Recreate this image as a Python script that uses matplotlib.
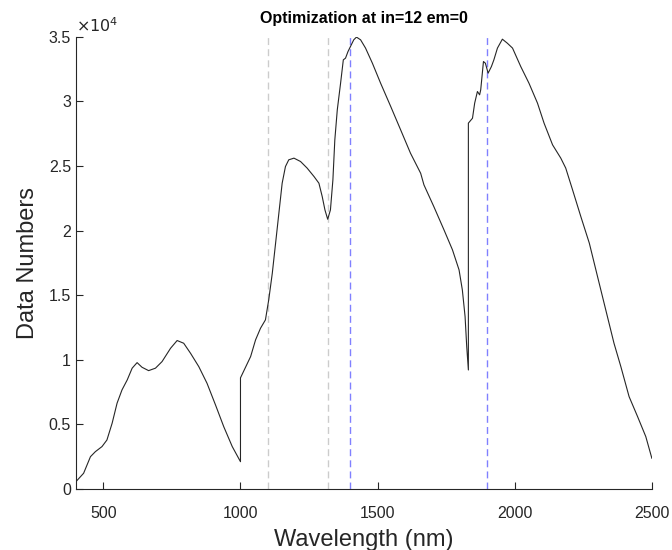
import matplotlib
matplotlib.use("Agg")
import matplotlib.pyplot as plt
from matplotlib.ticker import FuncFormatter

plt.rcParams['font.family'] = ['Liberation Sans', 'DejaVu Sans']

# spectrum
wavelength = [400, 428, 453, 471, 495, 513, 532, 550, 568, 587, 605, 623, 641, 665,
              690, 714, 745, 769, 793, 818, 848, 878, 909, 939, 970, 1000, 1000,
              1037, 1055, 1073, 1091, 1103, 1116, 1128, 1140, 1152, 1164, 1176, 1195,
              1219, 1243, 1268, 1286, 1298, 1308, 1318, 1328, 1337, 1344, 1353, 1365,
              1375, 1383, 1392, 1401, 1413, 1423, 1438, 1456, 1481, 1511, 1548, 1584,
              1620, 1657, 1669, 1705, 1742, 1773, 1797, 1809, 1819, 1825, 1831, 1831,
              1846, 1854, 1864, 1872, 1876, 1886, 1893, 1903, 1915, 1924, 1937, 1955,
              1973, 1992, 2022, 2052, 2083, 2107, 2138, 2168, 2186, 2211, 2241, 2272,
              2302, 2332, 2362, 2387, 2417, 2448, 2478, 2500]
data_numbers = [565, 1215, 2500, 2890, 3280, 3790, 5090, 6640, 7670, 8440, 9350, 9780,
                9420, 9160, 9350, 9860, 10890, 11490, 11280, 10500, 9470, 8180, 6500,
                4820, 3280, 2110, 8600, 10250, 11540, 12440, 13090, 14640, 16700,
                19020, 21350, 23670, 24960, 25480, 25610, 25350, 24840, 24190, 23670,
                22640, 21600, 20880, 21600, 23930, 27020, 29350, 31410, 33220, 33350,
                33860, 34250, 34770, 34980, 34770, 34130, 32960, 31410, 29600, 27800,
                25990, 24440, 23540, 21860, 20060, 18510, 16960, 15410, 13340, 11020,
                9210, 28320, 28700, 29870, 30770, 30510, 30900, 33090, 32960, 32190,
                32700, 33220, 34130, 34820, 34510, 34130, 32700, 31410, 29870, 28320,
                26640, 25610, 24840, 23150, 21090, 19030, 16440, 13860, 11280, 9470,
                7150, 5600, 4050, 2380]

gray_lines = [1100, 1320]
blue_lines = [1400, 1900]

fig = plt.figure(figsize=(6.72, 5.5), dpi=100)
ax = fig.add_axes([0.113, 0.111, 0.857, 0.822])

for x in gray_lines:
    ax.axvline(x, color='#cccccc', lw=1.0, ls=(0, (5, 3)))
for x in blue_lines:
    ax.axvline(x, color='#8080ff', lw=1.0, ls=(0, (5, 3)))
ax.plot(wavelength, data_numbers, color='#262626', lw=0.8)

ax.set_xlim(400, 2500)
ax.set_ylim(0, 35000)
ax.set_xticks([500, 1000, 1500, 2000, 2500])
ax.set_yticks([i * 5000 for i in range(8)])
ax.yaxis.set_major_formatter(FuncFormatter(lambda v, p: f"{v / 1e4:g}"))

for s in ['top', 'right']:
    ax.spines[s].set_visible(False)
for s in ['left', 'bottom']:
    ax.spines[s].set_color('#262626')
    ax.spines[s].set_linewidth(0.8)
ax.tick_params(direction='in', length=5, width=0.8, color='#262626',
               labelsize=11.5, labelcolor='#262626')
ax.tick_params(axis='x', pad=12)

ax.text(0.0, 1.005, r'$\times10^4$', transform=ax.transAxes, fontsize=11.5,
        color='#262626', ha='left', va='bottom')

ax.set_xlabel('Wavelength (nm)', fontsize=17, color='#262626', labelpad=6)
ax.set_ylabel('Data Numbers', fontsize=17, color='#262626', labelpad=7)
ax.set_title('Optimization at in=12 em=0', fontsize=11.5, fontweight='bold', pad=10)

fig.savefig('out.png', dpi=100)
